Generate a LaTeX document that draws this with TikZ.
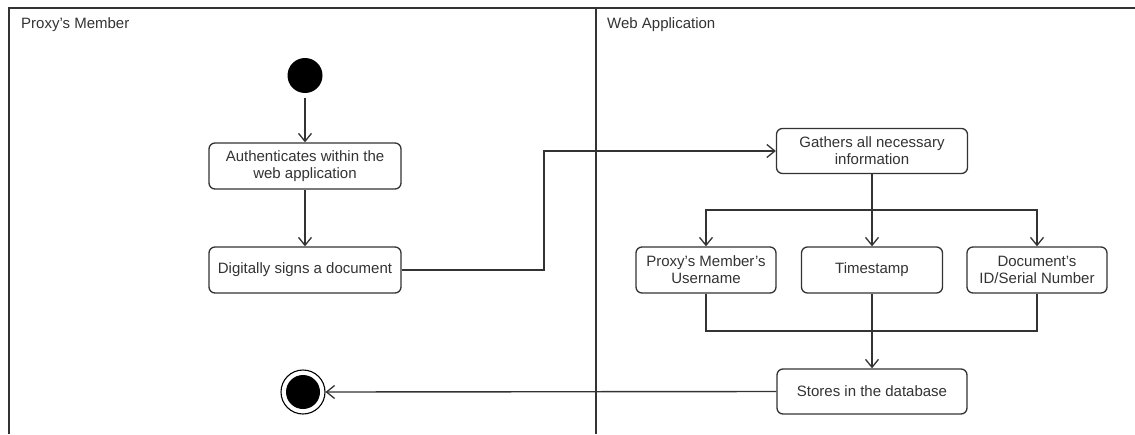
\documentclass[tikz,border=0pt]{standalone}
\usepackage{fontspec}
\setmainfont{Liberation Sans}
\usetikzlibrary{arrows.meta}
\definecolor{ink}{HTML}{333333}
\begin{document}
\begin{tikzpicture}[x=1pt,y=-1pt,
  lane/.style={draw=ink, line width=1.5pt},
  lanelabel/.style={anchor=west, inner sep=0pt, text=ink, font=\fontsize{15}{17}\selectfont},
  act/.style={draw=ink, line width=1.3pt, rounded corners=6pt, fill=white, text=ink,
    align=center, inner sep=0pt, font=\fontsize{15}{17}\selectfont},
  line/.style={draw=ink, line width=1.4pt},
  flow/.style={line, -{Straight Barb[length=8pt,width=13pt,line width=1.3pt]}},
  initial/.style={circle, fill=black, minimum size=35pt, inner sep=0pt},
  final/.style={circle, draw=black, line width=1.1pt, fill=white, minimum size=44pt, inner sep=0pt}
]
\useasboundingbox (0,0) rectangle (1135,434);

% swimlanes
\draw[lane] (9,434) -- (9,8) -- (1135,8);
\draw[lane] (596,8) -- (596,434);
\node[lanelabel] (laneA) at (21,25) {Proxy's Member};
\node[lanelabel] (laneB) at (607,25) {Web Application};

% actions
\node[initial] (start) at (305,75.5) {};
\node[act, minimum width=192pt, minimum height=46pt] (auth) at (305,166) {Authenticates within the\\web application};
\node[act, minimum width=192pt, minimum height=46pt] (sign) at (305,270) {Digitally signs a document};
\node[act, minimum width=191pt, minimum height=45pt] (gather) at (872,151) {Gathers all necessary\\information};
\node[act, minimum width=140pt, minimum height=46pt] (user) at (706,270) {Proxy's Member's\\Username};
\node[act, minimum width=141pt, minimum height=46pt] (stamp) at (872,270) {Timestamp};
\node[act, minimum width=140pt, minimum height=46pt] (docid) at (1037,270) {Document's\\ID/Serial Number};
\node[act, minimum width=190pt, minimum height=45pt] (store) at (872,391.5) {Stores in the database};
\node[final] (end) at (303,392) {};
\fill[black] (end.center) circle (17pt);

% flows
\coordinate (hop) at (544,151);
\coordinate (fork) at (872,210);
\coordinate (join) at (872,331);

\draw[flow, shorten <=5pt] (start) -- (auth);
\draw[flow] (auth) -- (sign);
\draw[flow] (sign.east) -| (hop) -- (gather.west);
\draw[line] (gather.south) -- (fork);
\draw[flow] (fork) -| (user.north);
\draw[flow] (fork) -| (docid.north);
\draw[flow] (fork) -- (stamp.north);
\draw[line] (user.south) |- (join);
\draw[line] (docid.south) |- (join);
\draw[flow] (stamp.south) -- (store.north);
\draw[flow] (store.west) -- (end.east);
\end{tikzpicture}
\end{document}
